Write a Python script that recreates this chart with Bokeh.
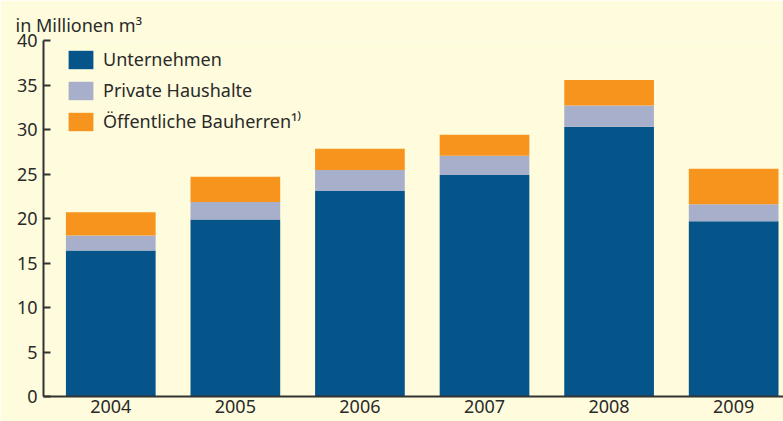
from bokeh.plotting import figure
from bokeh.models import ColumnDataSource, FixedTicker, Range1d, Legend
from bokeh.embed import file_html
from bokeh.resources import INLINE

years = ["2004", "2005", "2006", "2007", "2008", "2009"]
unternehmen = [16.4, 19.9, 23.1, 24.9, 30.3, 19.7]
private = [1.7, 1.95, 2.35, 2.15, 2.4, 1.9]
oeffentlich = [2.6, 2.85, 2.4, 2.35, 2.85, 4.0]
series = ["unternehmen", "private", "oeffentlich"]
labels = ["Unternehmen", "Private Haushalte", "Öffentliche Bauherren¹⁾"]
colors = ["#05558A", "#A8AFCB", "#F7941E"]
y_ticks = [0, 5, 10, 15, 20, 25, 30, 35, 40]

FONT = "Noto Sans"
TXT = "#2a2a2a"
BG = "#FEFCDC"
FS = "18px"

src = ColumnDataSource(dict(x=list(range(len(years))), unternehmen=unternehmen,
                            private=private, oeffentlich=oeffentlich))

p = figure(width=783, height=421, output_backend="svg", toolbar_location=None,
           x_range=Range1d(-0.54, 5.40), y_range=Range1d(0, 40),
           min_border_left=43, min_border_right=0, min_border_top=40, min_border_bottom=25,
           title="in Millionen m³")
p.background_fill_color = BG
p.border_fill_color = BG
p.outline_line_color = None
p.grid.visible = False

p.title.align = "left"
p.title.offset = -28
p.title.standoff = 8
p.title.text_font = FONT
p.title.text_font_size = FS
p.title.text_font_style = "normal"
p.title.text_color = TXT

rs = p.vbar_stack(series, x="x", width=0.72, source=src, color=colors, line_color=None)

legend = Legend(items=[(lab, [r]) for lab, r in zip(labels, rs)], location=(22, 263))
legend.background_fill_alpha = 0
legend.border_line_alpha = 0
legend.margin = 0
legend.padding = 0
legend.spacing = 7
legend.glyph_width = 31
legend.glyph_height = 23
legend.label_standoff = 7
legend.label_text_font = FONT
legend.label_text_font_size = FS
legend.label_text_color = TXT
legend.label_height = 23
p.add_layout(legend, "center")

for ax in (p.xaxis[0], p.yaxis[0]):
    ax.axis_line_color = "#333333"
    ax.axis_line_width = 2
    ax.major_label_text_font = FONT
    ax.major_label_text_font_size = FS
    ax.major_label_text_color = TXT
    ax.minor_tick_line_color = None

p.yaxis.ticker = FixedTicker(ticks=y_ticks)
p.yaxis.major_tick_in = 7
p.yaxis.major_tick_out = 0
p.yaxis.major_tick_line_color = "#333333"
p.yaxis.major_tick_line_width = 2
p.yaxis.major_label_standoff = 6

p.xaxis.ticker = FixedTicker(ticks=list(range(len(years))))
p.xaxis.major_label_overrides = {i: y for i, y in enumerate(years)}
p.xaxis.major_tick_line_color = None
p.xaxis.major_tick_in = 0
p.xaxis.major_tick_out = 0
p.xaxis.major_label_standoff = 3

open("out.html", "w").write(file_html(p, INLINE))
